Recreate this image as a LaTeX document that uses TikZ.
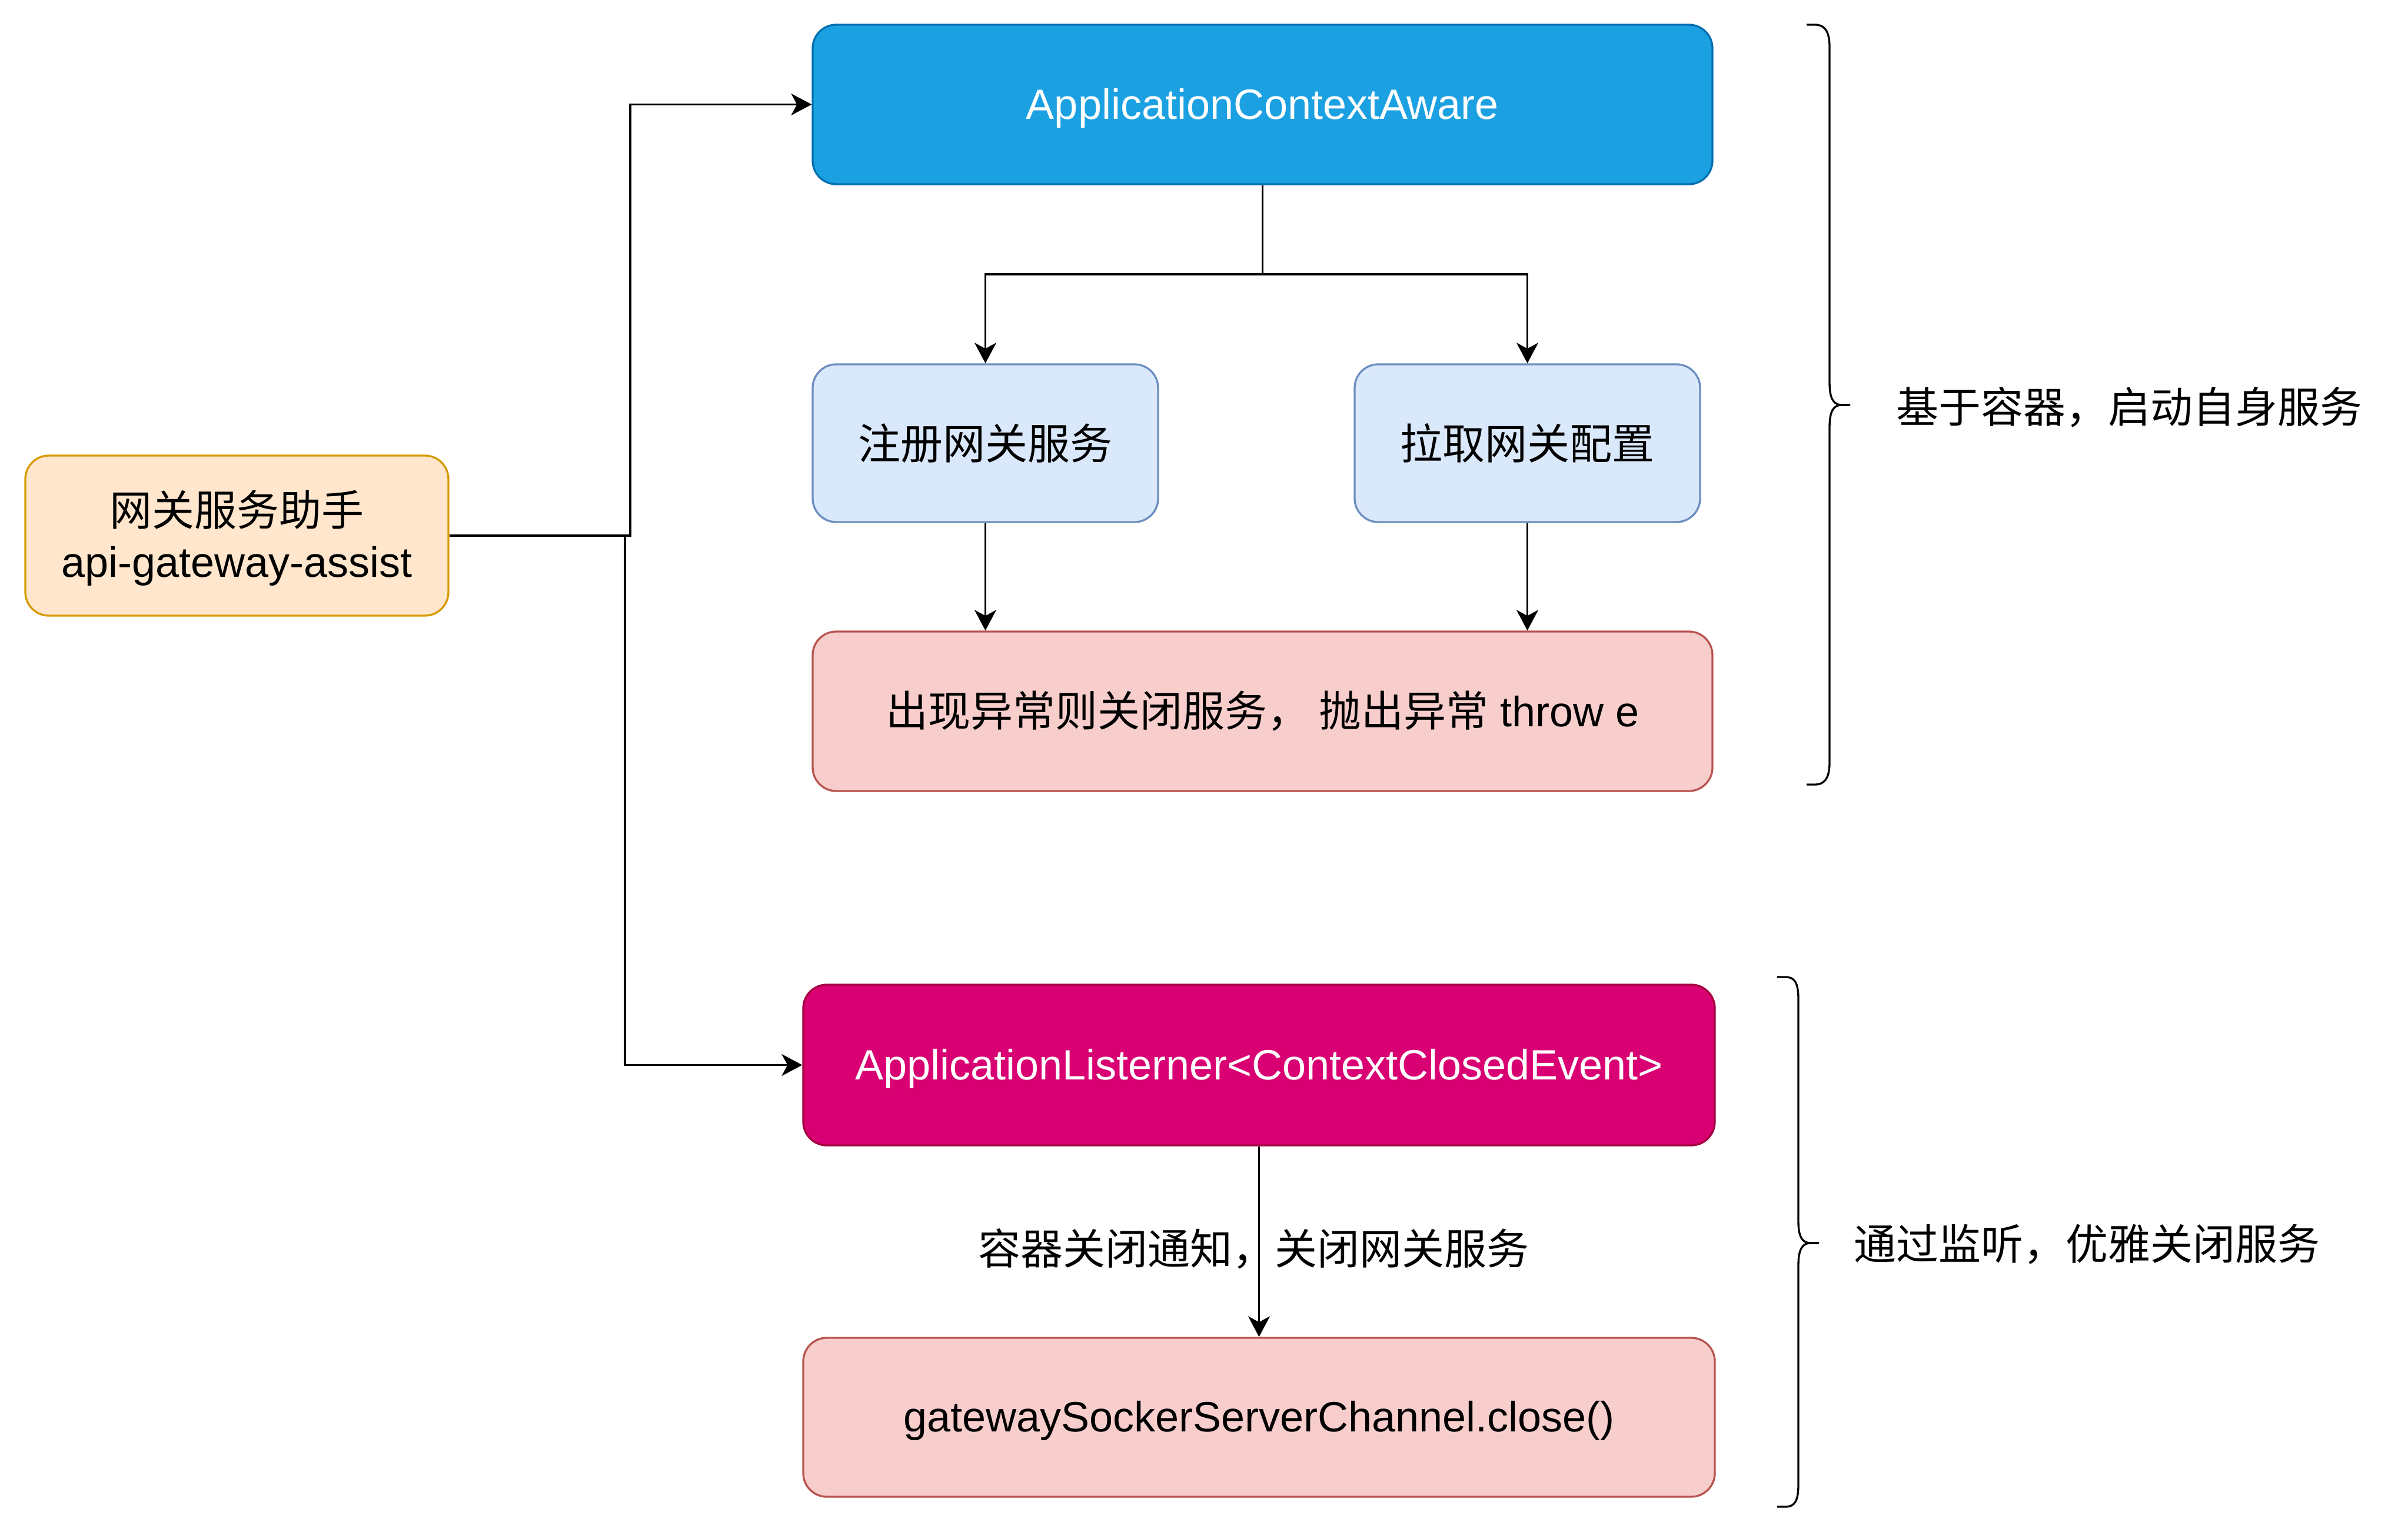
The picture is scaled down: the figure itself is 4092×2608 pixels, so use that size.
\documentclass[tikz,border=0pt]{standalone}
\usepackage{fontspec}
\setmainfont{Liberation Sans}
\newfontfamily\cjk{Noto Sans CJK SC}
\usetikzlibrary{arrows.meta}
\definecolor{acaFill}{HTML}{1BA1E2}
\definecolor{acaLine}{HTML}{006EAF}
\definecolor{blueFill}{HTML}{DAE8FC}
\definecolor{blueLine}{HTML}{6C8EBF}
\definecolor{redFill}{HTML}{F8CECC}
\definecolor{redLine}{HTML}{B85450}
\definecolor{orgFill}{HTML}{FFE6CC}
\definecolor{orgLine}{HTML}{D79B00}
\definecolor{lisFill}{HTML}{D80073}
\definecolor{lisLine}{HTML}{A50040}
\begin{document}
\begin{tikzpicture}[x=0.25pt,y=-0.25pt,
  box/.style={draw, rounded corners=10pt, line width=0.83pt, inner sep=0pt, align=center,
    font=\fontsize{18pt}{21.75pt}\selectfont},
  latin/.style={text height=16.29pt, text depth=3.82pt},
  arr/.style={line width=0.83pt, -{Stealth[length=8.75pt,width=9.25pt,inset=2.5pt]}},
  lbl/.style={inner sep=0pt, font=\fontsize{18pt}{21.75pt}\selectfont},
  brace/.style={line width=0.83pt}]
\useasboundingbox (0,0) rectangle (4092,2608);

% boxes
\node[box, latin, fill=acaFill, draw=acaLine, text=white, minimum width=382.25pt, minimum height=67.75pt]
  (aca) at (2145.5,177.5) {ApplicationContextAware};
\node[box, fill=blueFill, draw=blueLine, minimum width=146.75pt, minimum height=67pt]
  (reg) at (1674.5,753) {\cjk 注册网关服务};
\node[box, fill=blueFill, draw=blueLine, minimum width=146.75pt, minimum height=67pt]
  (pull) at (2595.5,753) {\cjk 拉取网关配置};
\node[box, fill=redFill, draw=redLine, minimum width=382.25pt, minimum height=67.75pt]
  (exc) at (2145.5,1208.5) {{\cjk 出现异常则关闭服务， 抛出异常} throw e};
\node[box, fill=orgFill, draw=orgLine, minimum width=179.75pt, minimum height=68pt]
  (assist) at (402.5,910) {};
\node[lbl, align=center, yshift=-1pt] (assistText) at (assist.center) {{\cjk 网关服务助手}\\api-gateway-assist};
\node[box, latin, fill=lisFill, draw=lisLine, text=white, minimum width=387.25pt, minimum height=68.25pt]
  (lis) at (2139.5,1809.5) {ApplicationListerner<ContextClosedEvent>};
\node[box, latin, fill=redFill, draw=redLine, minimum width=387.25pt, minimum height=67.5pt]
  (close) at (2139.5,2408) {gatewaySockerServerChannel.close()};

% routing points
\coordinate (j1) at (1071,910);
\coordinate (j2) at (1062,910);
\coordinate (split) at (2145.5,466);

% connectors
\draw[arr] (assist.east) -- (j1) |- (aca.west);
\draw[arr] (assist.east) -- (j2) |- (lis.west);
\draw[arr] (aca.south) -- (split) -| (reg.north);
\draw[arr] (aca.south) -- (split) -| (pull.north);
\draw[arr] (reg.south) -- (reg.south |- exc.north);
\draw[arr] (pull.south) -- (pull.south |- exc.north);
\draw[arr] (lis.south) -- (close.north);
\node[lbl] (elabel) at (2130,2122) {\cjk 容器关闭通知，关闭网关服务};

% braces
\draw[brace] (3070,42) -- (3084,42) .. controls (3100,42) and (3109,52) .. (3109,80)
  -- (3109,650) .. controls (3109,678) and (3116,688) .. (3130,688) -- (3144,688);
\draw[brace] (3144,688) -- (3130,688) .. controls (3116,688) and (3109,698) .. (3109,726)
  -- (3109,1295) .. controls (3109,1323) and (3100,1333) .. (3084,1333) -- (3070,1333);
\draw[brace] (3020,1660) -- (3034,1660) .. controls (3050,1660) and (3056,1670) .. (3056,1698)
  -- (3056,2075) .. controls (3056,2102) and (3063,2112) .. (3077,2112) -- (3091,2112);
\draw[brace] (3091,2112) -- (3077,2112) .. controls (3063,2112) and (3056,2122) .. (3056,2150)
  -- (3056,2522) .. controls (3056,2550) and (3050,2560) .. (3034,2560) -- (3020,2560);

% brace labels
\node[lbl] (t1) at (3618,692) {\cjk 基于容器，启动自身服务};
\node[lbl] (t2) at (3546,2114) {\cjk 通过监听，优雅关闭服务};
\end{tikzpicture}
\end{document}
